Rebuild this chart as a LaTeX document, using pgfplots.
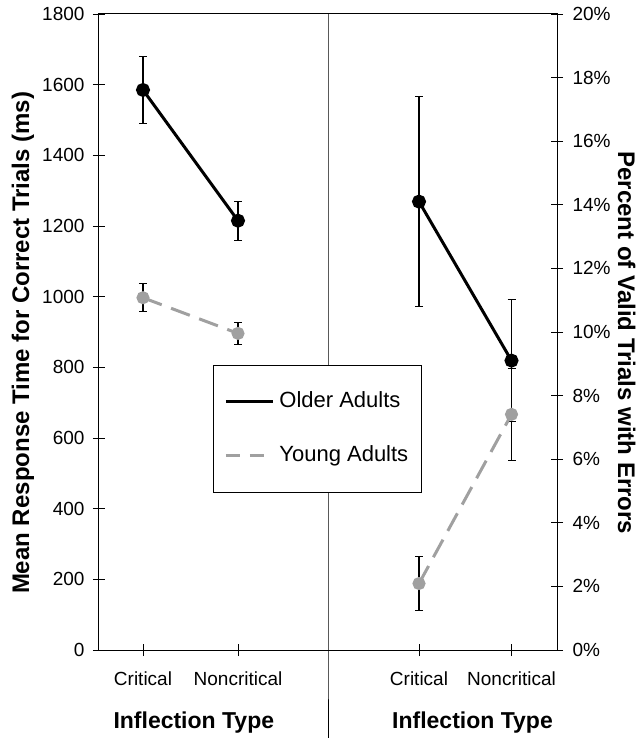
\documentclass[border=0pt]{standalone}
\usepackage{fontspec}
\setmainfont{Liberation Sans}
\usepackage{pgfplots}
\pgfplotsset{compat=1.18}
\definecolor{ygray}{RGB}{160,160,160}
\begin{document}
\begin{tikzpicture}
\useasboundingbox (-99bp,-88bp) rectangle (541bp,650bp);
\begin{axis}[
  scale only axis, width=458bp, height=636bp,
  xmin=0, xmax=458, ymin=0, ymax=1800,
  xtick pos=bottom, ytick pos=left,
  tick align=center, major tick length=12bp,
  ytick={0,200,...,1800},
  xtick={44,139,320,412.5},
  xticklabels={Critical,Noncritical,Critical,Noncritical},
  tick style={black, line width=0.8bp},
  axis line style={black, line width=1bp},
  ticklabel style={font=\fontsize{19bp}{22bp}\selectfont},
  xticklabel style={yshift=-12bp},
  yticklabel style={xshift=-5bp},
  /pgf/number format/assume math mode=true,
  /pgf/number format/1000 sep={},
  ylabel={Mean Response Time for Correct Trials (ms)},
  ylabel style={font=\bfseries\fontsize{24bp}{27bp}\selectfont, at={(axis description cs:-0.166,0.483)}, anchor=center},
  clip=false,
]
\draw[black, line width=1bp] (axis cs:229,1800) -- (axis cs:229,0) -- ++(0,-100bp);
\addplot[black, line width=3bp, mark=*, mark size=5.5bp,
  error bars/.cd, y dir=both, y explicit,
  error bar style={black, solid, line width=1.1bp},
  error mark options={rotate=90, mark size=4bp, line width=1.1bp, black, solid}]
  coordinates {(44,1585) +- (0,95) (139,1215) +- (0,55)};
\addplot[ygray, line width=3bp, dash pattern=on 20bp off 10bp, mark=*, mark size=5bp,
  mark options={solid, fill=ygray, draw=ygray},
  error bars/.cd, y dir=both, y explicit,
  error bar style={black, solid, line width=1.1bp},
  error mark options={rotate=90, mark size=4bp, line width=1.1bp, black, solid}]
  coordinates {(44,997) +- (0,39) (139,896) +- (0,31)};
\node[font=\bfseries\fontsize{23bp}{26bp}\selectfont, yshift=-73bp] at (axis cs:94.8,0) {Inflection Type};
\node[font=\bfseries\fontsize{23bp}{26bp}\selectfont, yshift=-73bp] at (axis cs:373.5,0) {Inflection Type};
\end{axis}
\begin{axis}[
  scale only axis, width=458bp, height=636bp,
  xmin=0, xmax=458, ymin=0, ymax=20,
  axis x line=none, axis y line*=right,
  tick align=center, major tick length=12bp,
  ytick={0,2,...,20},
  yticklabel={\pgfmathprintnumber{\tick}\%},
  tick style={black, line width=0.8bp},
  axis line style={black, line width=1bp},
  ticklabel style={font=\fontsize{19bp}{22bp}\selectfont},
  yticklabel style={xshift=6bp},
  /pgf/number format/assume math mode=true,
  ylabel={Percent of Valid Trials with Errors},
  ylabel style={font=\bfseries\fontsize{24bp}{27bp}\selectfont, at={(axis description cs:1.152,0.483)}, anchor=center, rotate=180},
  legend image code/.code={\draw[#1] (0bp,0bp) -- (47bp,0bp);},
  legend cell align=left,
  legend style={at={(axis description cs:0.2489,0.4481)}, anchor=north west,
    draw=black, line width=0.8bp, fill=white,
    font=\fontsize{22bp}{25bp}\selectfont,
    row sep=29bp, column sep=3bp, inner xsep=11bp, inner ysep=24bp,
    nodes={inner sep=2bp, text height=16bp, text depth=5bp}},
]
\addplot[black, line width=3bp, mark=*, mark size=5.5bp, forget plot,
  error bars/.cd, y dir=both, y explicit,
  error bar style={black, solid, line width=1.1bp},
  error mark options={rotate=90, mark size=4bp, line width=1.1bp, black, solid}]
  coordinates {(320,14.1) +- (0,3.3) (412.5,9.1) +- (0,1.92)};
\addplot[ygray, line width=3bp, dash pattern=on 20bp off 10bp, mark=*, mark size=5bp, forget plot,
  mark options={solid, fill=ygray, draw=ygray},
  error bars/.cd, y dir=both, y explicit,
  error bar style={black, solid, line width=1.1bp},
  error mark options={rotate=90, mark size=4bp, line width=1.1bp, black, solid}]
  coordinates {(320,2.09) +- (0,0.85) (412.5,7.41) +- (0,1.44)};
\addlegendimage{black, line width=3bp}
\addlegendentry{Older Adults}
\addlegendimage{ygray, line width=3bp, dash pattern=on 14bp off 10bp}
\addlegendentry{Young Adults}
\end{axis}
\end{tikzpicture}
\end{document}
